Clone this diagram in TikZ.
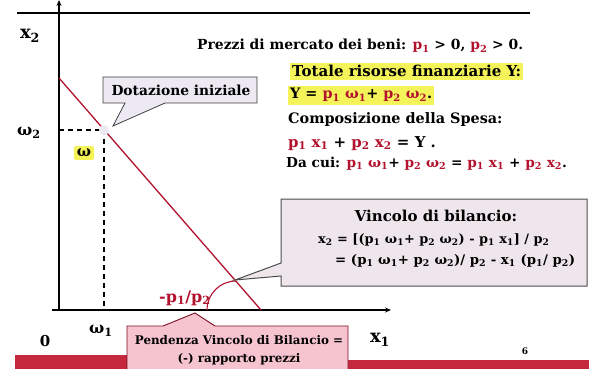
\documentclass[tikz,border=0pt]{standalone}
\usepackage{fontspec}
\setmainfont{DejaVu Serif}
\usetikzlibrary{arrows.meta}
\definecolor{dred}{HTML}{B3122E}
\definecolor{hl}{HTML}{F4F45A}
\definecolor{lav}{HTML}{ECE9F2}
\definecolor{boxpink}{HTML}{EFE6EC}
\definecolor{pinkbox}{HTML}{F6C4CF}
\definecolor{barred}{HTML}{C4283C}
\newcommand{\pa}[1]{\textcolor{dred}{p\textsubscript{#1}}}
\newcommand{\wa}[1]{ω\textsubscript{#1}}
\newcommand{\xa}[1]{x\textsubscript{#1}}
\newcommand{\rw}[1]{\textcolor{dred}{ω\textsubscript{#1}}}
\newcommand{\rx}[1]{\textcolor{dred}{x\textsubscript{#1}}}
\tikzset{
  axis/.style={line width=1.6pt, -{Stealth[length=6pt,width=5pt]}},
  txt/.style={font=\fontsize{14}{16}\selectfont\bfseries, anchor=base west, inner sep=0pt},
  hltxt/.style={txt, fill=hl, inner xsep=2pt, inner ysep=3pt},
  axlab/.style={font=\fontsize{18}{20}\selectfont\bfseries, inner sep=0pt},
  callout/.style={draw=black!75, line width=0.8pt, fill=lav},
}
\begin{document}
\begin{tikzpicture}[x=1pt,y=-1pt]
\useasboundingbox (0,0) rectangle (589,369);
% bottom red bars
\fill[barred] (15,355) rectangle (128,369);
\fill[barred] (346,360) rectangle (589,369);
% top line
\coordinate (tl) at (17,13);
\coordinate (tr) at (530,13);
\draw[line width=1.8pt] (tl) -- (tr);
% axes
\coordinate (O) at (59,310);
\coordinate (xs) at (52,310);
\coordinate (ytop) at (59,0);
\coordinate (xend) at (391,310);
\draw[axis] (O) -- (ytop);
\draw[axis] (xs) -- (xend);
% budget line
\coordinate (A) at (59,78);
\coordinate (B) at (261,310);
\coordinate (W) at (104,130);
\coordinate (T) at (235,280);
\draw[dred, line width=1.3pt] (A) -- (B);
% dashed
\draw[line width=1.4pt, dash pattern=on 5pt off 4pt] (59,130) -- (W) -- (104,310);
\fill[lav] (W) circle (5);
% arc
\draw[dred, line width=1.1pt] (207,310) arc[start angle=180, end angle=270, radius=29];
\node[font=\fontsize{16}{18}\selectfont\bfseries, text=dred, anchor=base west, inner sep=0pt] (slope) at (159,302) {-p\textsubscript{1}/p\textsubscript{2}};
% axis labels
\node[axlab] (x2) at (30,36) {x\textsubscript{2}};
\node[axlab] (x1) at (380,340) {x\textsubscript{1}};
\node[axlab, font=\fontsize{15}{17}\selectfont\bfseries] (zero) at (45,341) {0};
\node[axlab, font=\fontsize{16}{18}\selectfont\bfseries] (w1) at (101,331) {ω\textsubscript{1}};
\node[axlab, font=\fontsize{16}{18}\selectfont\bfseries] (w2) at (29,133) {ω\textsubscript{2}};
\node[axlab, font=\fontsize{15}{17}\selectfont\bfseries, fill=hl, inner sep=3pt, rounded corners=2pt] (w) at (84,153) {ω};
% Dotazione callout
\coordinate (dtip) at (113,126);
\draw[callout] (103,77) -- (257,77) -- (257,103) -- (165,103) -- (dtip) -- (125,103) -- (103,103) -- cycle;
\node[font=\fontsize{13.8}{16}\selectfont\bfseries, inner sep=0pt] (dot) at (181,90) {Dotazione iniziale};
% right text block
\node[txt, font=\fontsize{13.9}{16}\selectfont\bfseries] (l1) at (197,50) {Prezzi di mercato dei beni: \pa{1} > 0, \pa{2} > 0.};
\node[hltxt, font=\fontsize{15}{17}\selectfont\bfseries] (l2) at (290,77) {Totale risorse finanziarie Y:};
\node[hltxt, font=\fontsize{14.4}{17}\selectfont\bfseries] (l3) at (288,99) {Y = \pa{1} \rw{1}+ \pa{2} \rw{2}.};
\node[txt, font=\fontsize{14.4}{17}\selectfont\bfseries] (l4) at (288,123) {Composizione della Spesa:};
\node[txt, font=\fontsize{15}{17}\selectfont\bfseries] (l5) at (288,147) {\pa{1} \rx{1} +\ \pa{2} \rx{2} = Y .};
\node[txt, font=\fontsize{13.7}{16}\selectfont\bfseries] (l6) at (286,167) {Da cui: \pa{1} \rw{1}+ \pa{2} \rw{2} = \pa{1} \rx{1} +\ \pa{2} \rx{2}.};
% Vincolo callout
\draw[callout, fill=boxpink, draw=black!70, line width=1pt] (281,199) -- (587,199) -- (587,286) -- (281,286) -- (281,276) -- (T) -- (281,263) -- cycle;
\node[font=\fontsize{15}{17}\selectfont\bfseries, anchor=base, inner sep=0pt] (v1) at (436,221) {Vincolo di bilancio:};
\node[txt, font=\fontsize{12.9}{15}\selectfont\bfseries] (v2) at (318,243) {\xa{2} = [(p\textsubscript{1} \wa{1}+ p\textsubscript{2} \wa{2}) - p\textsubscript{1} \xa{1}] / p\textsubscript{2}};
\node[txt, font=\fontsize{13.3}{15}\selectfont\bfseries] (v3) at (335,264) {= (p\textsubscript{1} \wa{1}+ p\textsubscript{2} \wa{2})/ p\textsubscript{2} - \xa{1} (p\textsubscript{1}/ p\textsubscript{2})};
% bottom callout
\coordinate (ptip) at (195,313);
\draw[draw=dred!70!black, line width=0.9pt, fill=pinkbox] (127,369) -- (127,326) -- (163,326) -- (ptip) -- (215,326) -- (348,326) -- (348,369);
\node[font=\fontsize{11.9}{13}\selectfont\bfseries, anchor=base, inner sep=0pt] (pb1) at (239,344) {Pendenza Vincolo di Bilancio =};
\node[font=\fontsize{11.9}{13}\selectfont\bfseries, anchor=base, inner sep=0pt] (pb2) at (239,362) {(-) rapporto prezzi};
% page number
\node[font=\fontsize{9}{10}\selectfont\bfseries, inner sep=0pt] (pg) at (525,351) {6};
\end{tikzpicture}
\end{document}
